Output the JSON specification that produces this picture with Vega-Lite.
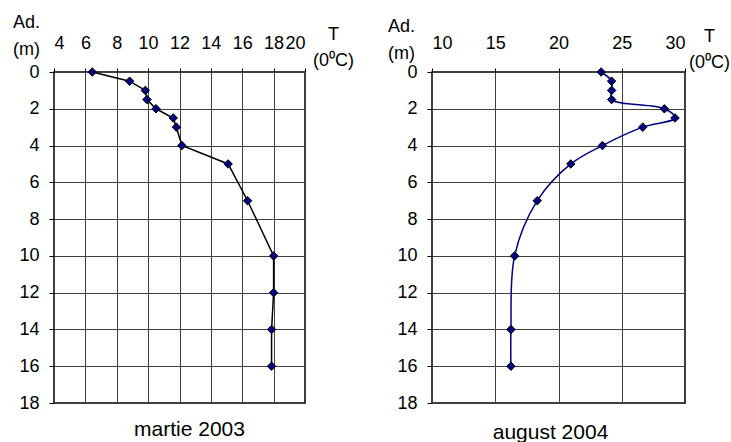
{
  "$schema": "https://vega.github.io/schema/vega-lite/v6.json",
  "background": "white",
  "padding": {"left": 11, "top": 12, "right": 0, "bottom": 0},
  "spacing": 31,
  "config": {
    "font": "Liberation Sans",
    "view": {"stroke": "black", "strokeWidth": 1.5},
    "axis": {
      "domain": false, "grid": true, "gridColor": "#404040", "gridOpacity": 1, "gridWidth": 1,
      "tickColor": "black", "labelColor": "black", "labelFont": "Liberation Sans", "labelFontSize": 18,
      "titleFont": "Liberation Sans", "titleFontSize": 18, "titleFontWeight": "normal", "titleColor": "black"
    },
    "title": {"font": "Liberation Sans", "fontSize": 21, "fontWeight": "normal", "color": "black", "orient": "bottom", "anchor": "middle", "frame": "group"}
  },
  "datasets": {
    "martie": [
      {"t": 6.44, "d": 0}, {"t": 8.82, "d": 0.5}, {"t": 9.82, "d": 1}, {"t": 9.93, "d": 1.5},
      {"t": 10.5, "d": 2}, {"t": 11.6, "d": 2.5}, {"t": 11.8, "d": 3}, {"t": 12.15, "d": 4},
      {"t": 15.1, "d": 5}, {"t": 16.34, "d": 7}, {"t": 18.0, "d": 10}, {"t": 18.0, "d": 12},
      {"t": 17.87, "d": 14}, {"t": 17.87, "d": 16}
    ],
    "august": [
      {"t": 23.37, "d": 0}, {"t": 24.2, "d": 0.5}, {"t": 24.2, "d": 1}, {"t": 24.2, "d": 1.5},
      {"t": 28.37, "d": 2}, {"t": 29.21, "d": 2.5}, {"t": 26.66, "d": 3}, {"t": 23.47, "d": 4},
      {"t": 20.97, "d": 5}, {"t": 18.32, "d": 7}, {"t": 16.53, "d": 10}, {"t": 16.24, "d": 14},
      {"t": 16.24, "d": 16}
    ]
  },
  "hconcat": [
    {
      "width": 251, "height": 331,
      "title": {"text": "martie 2003", "offset": 7, "dx": 10},
      "data": {"name": "martie"},
      "encoding": {
        "x": {"field": "t", "type": "quantitative",
          "scale": {"domain": [4, 20], "nice": false, "zero": false},
          "axis": {"orient": "top", "values": [4, 6, 8, 10, 12, 14, 16, 18, 20], "tickSize": 4, "labelPadding": 16,
            "title": ["T", "(0⁰C)"], "titleAlign": "center", "titleAngle": 0, "titleX": 279, "titleY": -47,
            "titleBaseline": "top", "titleLineHeight": 26}},
        "y": {"field": "d", "type": "quantitative",
          "scale": {"domain": [0, 18], "reverse": true, "nice": false, "zero": false},
          "axis": {"values": [0, 2, 4, 6, 8, 10, 12, 14, 16, 18], "tickSize": 5, "labelPadding": 10,
            "title": ["Ad.", "(m)"], "titleAngle": 0, "titleAlign": "center", "titleX": -28, "titleY": -59,
            "titleBaseline": "top", "titleLineHeight": 27}}
      },
      "layer": [
        {"mark": {"type": "line", "color": "black", "strokeWidth": 1.5}, "encoding": {"order": {"field": "d", "type": "quantitative"}}},
        {"mark": {"type": "point", "shape": "diamond", "filled": true, "fill": "#000080", "stroke": "black", "strokeWidth": 1, "size": 72, "opacity": 1}}
      ]
    },
    {
      "width": 253, "height": 331,
      "title": {"text": "august 2004", "offset": 10, "dx": -8},
      "data": {"name": "august"},
      "encoding": {
        "x": {"field": "t", "type": "quantitative",
          "scale": {"domain": [10, 30], "nice": false, "zero": false},
          "axis": {"orient": "top", "values": [10, 15, 20, 25, 30], "tickSize": 4, "labelPadding": 16,
            "title": ["T", "(0⁰C)"], "titleAlign": "center", "titleAngle": 0, "titleX": 277, "titleY": -45,
            "titleBaseline": "top", "titleLineHeight": 26}},
        "y": {"field": "d", "type": "quantitative",
          "scale": {"domain": [0, 18], "reverse": true, "nice": false, "zero": false},
          "axis": {"values": [0, 2, 4, 6, 8, 10, 12, 14, 16, 18], "tickSize": 5, "labelPadding": 10,
            "title": ["Ad.", "(m)"], "titleAngle": 0, "titleAlign": "center", "titleX": -31, "titleY": -55,
            "titleBaseline": "top", "titleLineHeight": 27}}
      },
      "layer": [
        {"mark": {"type": "line", "color": "#000080", "strokeWidth": 1.5, "interpolate": "catmull-rom"}, "encoding": {"order": {"field": "d", "type": "quantitative"}}},
        {"mark": {"type": "point", "shape": "diamond", "filled": true, "fill": "#000080", "stroke": "black", "strokeWidth": 1, "size": 72, "opacity": 1}}
      ]
    }
  ]
}
